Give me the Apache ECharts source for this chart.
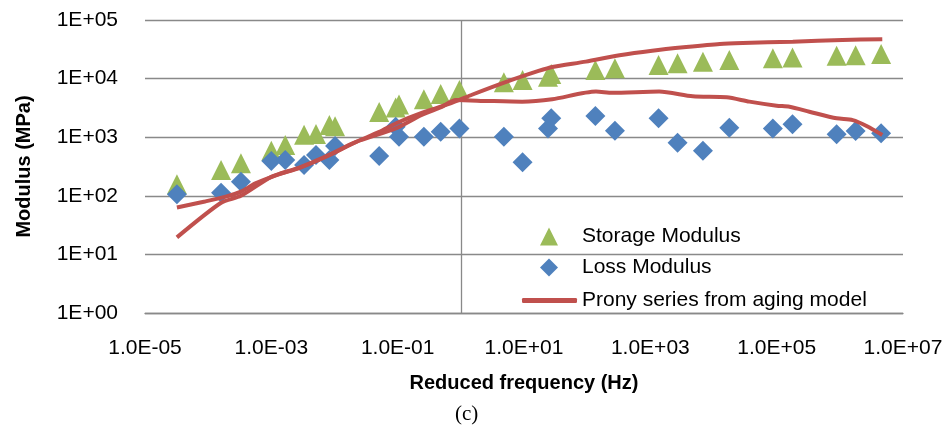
<!DOCTYPE html>
<html>
<head>
<meta charset="utf-8">
<script src="https://cdn.jsdelivr.net/npm/echarts@6/dist/echarts.min.js"></script>
<style>html,body{margin:0;padding:0;background:#fff}#c{width:952px;height:437px}</style>
</head>
<body>
<div id="c"></div>
<script>
// Measured frequencies (Hz) shared by storage and loss modulus
const freq = [3.2e-5, 1.6e-4, 3.3e-4, 1.0e-3, 1.66e-3, 3.3e-3, 5.1e-3, 8.3e-3, 1.02e-2, 5.1e-2,
  9.3e-2, 1.05e-1, 2.6e-1, 4.8e-1, 9.5e-1, 4.8, 9.5, 24, 27, 135,
  275, 1350, 2700, 6800, 17800, 87000, 178000, 890000, 1.78e6, 4.5e6];
const storageModulus = [158, 275, 358, 590, 735, 1100, 1130, 1620, 1540, 2700,
  3200, 3600, 4460, 5450, 6400, 8700, 9460, 10800, 12000, 14000,
  15000, 17000, 18200, 19400, 20800, 22200, 22900, 24500, 25100, 26200];
const lossModulus = [106, 113, 174, 393, 408, 336, 497, 408, 705, 480,
  1510, 1020, 1020, 1240, 1410, 1020, 372, 1410, 2100, 2300,
  1290, 2100, 805, 590, 1450, 1410, 1660, 1120, 1280, 1165];
// Prony series curves
const pronyStorageFreq = [3.2e-5, 1.6e-4, 3.3e-4, 1.0e-3, 2.7e-3, 7.2e-3, 2.2e-2, 5.0e-2, 0.105, 0.24,
  0.58, 0.93, 1.5, 5.1, 17, 28, 95, 325, 1070, 3700, 12600, 29000, 1.8e5, 1.1e6, 4.7e6];
const pronyStorageVal = [19.5, 76, 100, 210, 295, 460, 830, 1220, 1820, 2600,
  3550, 4300, 5300, 8700, 13500, 15800, 19500, 25000, 29900, 34500, 39000, 40500, 42600, 45600, 47000];
const pronyLossFreq = [3.2e-5, 8.9e-5, 1.9e-4, 3.3e-4, 5.6e-4, 1.3e-3, 2.7e-3, 7.2e-3, 2.2e-2, 9.3e-2,
  0.24, 0.5, 0.83, 2.7, 9.3, 28, 138, 250, 1380, 4700, 16200, 37000, 1.0e5, 1.6e5, 3.3e5, 8.9e5, 1.6e6, 2.7e6, 4.7e6];
const pronyLossVal = [63, 80, 97, 118, 163, 233, 300, 465, 830, 1410,
  2400, 3300, 4300, 4150, 4040, 4440, 6000, 5750, 6000, 5000, 4800, 4050, 3450, 3300, 2720, 2100, 1960, 1540, 1090];
const verticalAxisCross = 1;
const names = ['Storage Modulus', 'Loss Modulus', 'Prony series from aging model'];

const pair = (xs, ys) => xs.map((x, i) => [x, ys[i]]);
const pad2 = n => (n < 10 ? '0' : '') + n;
const FONT = 'Liberation Sans';
const GRID = '#898989';
const RED = '#C0504D';
const GREEN = '#9BBB59';
const BLUE = '#4F81BD';

const chart = echarts.init(document.getElementById('c'), null, {renderer: 'canvas'});
chart.setOption({
  animation: false,
  backgroundColor: '#fff',
  title: {
    text: '(c)', left: 450, top: 399,
    textStyle: {fontFamily: 'Liberation Serif', fontSize: 21, fontWeight: 'normal', color: '#000'}
  },
  grid: {left: 145, right: 49, top: 20, bottom: 124, containLabel: false},
  legend: [
    {
      orient: 'vertical', left: 535, top: 221, padding: 5,
      itemWidth: 18, itemHeight: 18, itemGap: 10,
      textStyle: {fontFamily: FONT, fontSize: 21, color: '#000', padding: [0, 0, 0, 19]},
      data: [
        {name: names[0], icon: 'triangle', itemStyle: {color: GREEN, opacity: 1}},
        {name: names[1], icon: 'diamond', itemStyle: {color: BLUE, opacity: 1}}
      ]
    },
    {
      orient: 'vertical', left: 517, top: 285, padding: 5,
      itemWidth: 55, itemHeight: 5, symbolKeepAspect: false,
      textStyle: {fontFamily: FONT, fontSize: 21, color: '#000'},
      data: [{name: names[2], icon: 'roundRect', itemStyle: {color: RED}}]
    }
  ],
  xAxis: {
    type: 'log', logBase: 10, min: 1e-5, max: 1e7, interval: 1,
    name: 'Reduced frequency (Hz)', nameLocation: 'middle', nameGap: 60,
    nameTextStyle: {fontFamily: FONT, fontSize: 20, fontWeight: 'bold', color: '#000'},
    axisLine: {show: true, lineStyle: {color: GRID, width: 1.3}},
    axisTick: {show: false},
    splitLine: {show: false},
    axisLabel: {
      margin: 25, fontFamily: FONT, fontSize: 21, color: '#000',
      formatter: v => {
        const e = Math.round(Math.log10(v));
        if (Math.abs(e) % 2 !== 1) return '';
        return '1.0E' + (e < 0 ? '-' : '+') + pad2(Math.abs(e));
      }
    }
  },
  yAxis: {
    type: 'log', logBase: 10, min: 1, max: 1e5, interval: 1,
    name: 'Modulus (MPa)', nameLocation: 'middle', nameGap: 111,
    nameTextStyle: {fontFamily: FONT, fontSize: 20, fontWeight: 'bold', color: '#000'},
    axisLine: {show: false},
    axisTick: {show: false},
    splitLine: {show: true, lineStyle: {color: GRID, width: 1.3}},
    axisLabel: {
      margin: 27, fontFamily: FONT, fontSize: 21, color: '#000',
      formatter: v => {
        const e = Math.round(Math.log10(v));
        return '1E' + (e < 0 ? '-' : '+') + pad2(Math.abs(e));
      }
    }
  },
  series: [
    {
      name: names[0], type: 'scatter', symbol: 'triangle', symbolSize: 20,
      itemStyle: {color: GREEN, opacity: 1},
      data: pair(freq, storageModulus),
      markLine: {
        silent: true, symbol: ['none', 'none'], z: 1,
        label: {show: false},
        lineStyle: {color: GRID, width: 1.3, type: 'solid'},
        data: [{xAxis: verticalAxisCross}]
      }
    },
    {
      name: names[1], type: 'scatter', symbol: 'diamond', symbolSize: 20,
      itemStyle: {color: BLUE, opacity: 1},
      data: pair(freq, lossModulus)
    },
    {
      name: names[2], type: 'line', showSymbol: false, symbol: 'none', smooth: 0.25,
      lineStyle: {color: RED, width: 4}, itemStyle: {color: RED},
      data: pair(pronyStorageFreq, pronyStorageVal)
    },
    {
      name: names[2], type: 'line', showSymbol: false, symbol: 'none', smooth: 0.25,
      lineStyle: {color: RED, width: 4}, itemStyle: {color: RED},
      data: pair(pronyLossFreq, pronyLossVal)
    }
  ]
});
</script>
</body>
</html>
